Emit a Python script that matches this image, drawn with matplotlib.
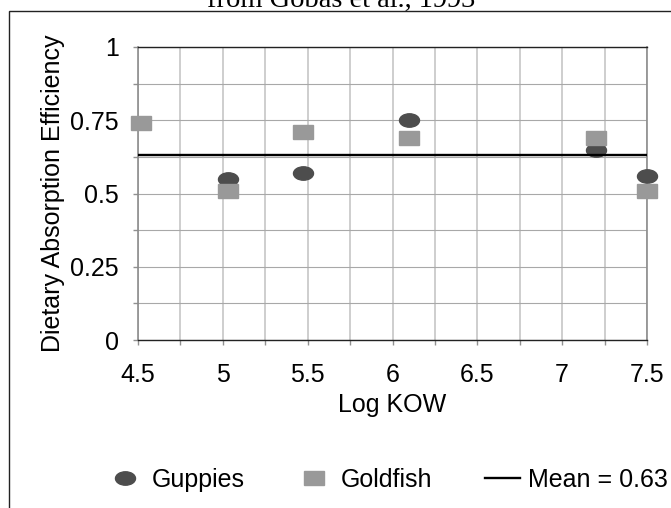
import matplotlib
matplotlib.use("Agg")
import matplotlib.pyplot as plt
from matplotlib.markers import MarkerStyle
from matplotlib.patches import Rectangle
from matplotlib.ticker import MultipleLocator
from matplotlib.transforms import Affine2D

# Data
log_kow_guppies = [5.03, 5.47, 6.1, 7.2, 7.5]
eff_guppies = [0.55, 0.57, 0.75, 0.65, 0.56]
log_kow_goldfish = [4.52, 5.03, 5.47, 6.1, 7.2, 7.5]
eff_goldfish = [0.74, 0.51, 0.71, 0.69, 0.69, 0.51]
mean_value = 0.63
mean_range = [4.5, 7.5]

x_ticks = [4.5, 5, 5.5, 6, 6.5, 7, 7.5]
x_tick_labels = ["4.5", "5", "5.5", "6", "6.5", "7", "7.5"]
y_ticks = [0, 0.25, 0.5, 0.75, 1]
y_tick_labels = ["0", "0.25", "0.5", "0.75", "1"]

plt.rcParams['font.family'] = ['Liberation Sans', 'DejaVu Sans']
FS = 18

W, H = 671, 508
fig = plt.figure(figsize=(W / 100, H / 100), dpi=100)

# outer chart frame (cut off on the right and bottom in the reference)
fig.add_artist(Rectangle((9 / W, -0.1), 1.2, 1.1 - 11 / H, transform=fig.transFigure,
                         fill=False, ec='#222222', lw=1.0, clip_on=False))

# title is cut off at the top of the image, as in the reference
fig.text(341 / W, 1 - 7 / H, "from Gobas et al., 1993", family=['Liberation Serif'],
         fontsize=20.5, ha='center', va='baseline')

ax = fig.add_axes([138 / W, 1 - 340 / H, 509 / W, 293 / H])

# slightly squashed markers like the original
ellipse = MarkerStyle('o', transform=Affine2D().scale(1, 0.67))
square = MarkerStyle('s', transform=Affine2D().scale(1, 0.73))

ax.plot(log_kow_guppies, eff_guppies, linestyle='none', marker=ellipse, ms=14.4,
        color='#4d4d4d', mec='#4d4d4d', label="Guppies", zorder=3, clip_on=False)
ax.plot(log_kow_goldfish, eff_goldfish, linestyle='none', marker=square, ms=14.4,
        color='#999999', mec='#999999', label="Goldfish", zorder=4, clip_on=False)
ax.plot(mean_range, [mean_value, mean_value], color='black', lw=1.7,
        label="Mean = 0.63", zorder=5)

ax.set_xlim(4.5, 7.5)
ax.set_ylim(0, 1)
ax.set_xticks(x_ticks)
ax.set_xticklabels(x_tick_labels)
ax.set_yticks(y_ticks)
ax.set_yticklabels(y_tick_labels)
ax.xaxis.set_minor_locator(MultipleLocator(0.25))
ax.yaxis.set_minor_locator(MultipleLocator(0.125))

# grid lines: vertical light, horizontal a bit darker
ax.grid(True, which='both', axis='x', color='#c6c6c6', lw=1.2)
ax.grid(True, which='both', axis='y', color='#a8a8a8', lw=0.8)
ax.set_axisbelow(True)

ax.tick_params(which='both', direction='out', length=3.6, color='#909090', width=1)
ax.tick_params(axis='x', which='major', labelsize=FS, pad=13)
ax.tick_params(axis='y', which='major', labelsize=FS, pad=10)

for side in ['left', 'right']:
    ax.spines[side].set_color('#8c8c8c')
    ax.spines[side].set_linewidth(1.2)
for side in ['top', 'bottom']:
    ax.spines[side].set_color('#222222')
    ax.spines[side].set_linewidth(1.0)

ax.set_xlabel("Log KOW", fontsize=FS)
ax.set_ylabel("Dietary Absorption Efficiency", fontsize=FS)
ax.xaxis.set_label_coords(0.5, -0.18)
ax.yaxis.set_label_coords(-0.143, 0.5)

# legend along the bottom
handles, labels = ax.get_legend_handles_labels()
fig.legend(handles, labels, loc='center', bbox_to_anchor=(388 / W, 1 - 480 / H),
           ncol=3, frameon=False, fontsize=FS, handlelength=1.4, handletextpad=0.35,
           columnspacing=2.1, borderpad=0, borderaxespad=0, numpoints=1)

fig.savefig("out.png", dpi=100)
